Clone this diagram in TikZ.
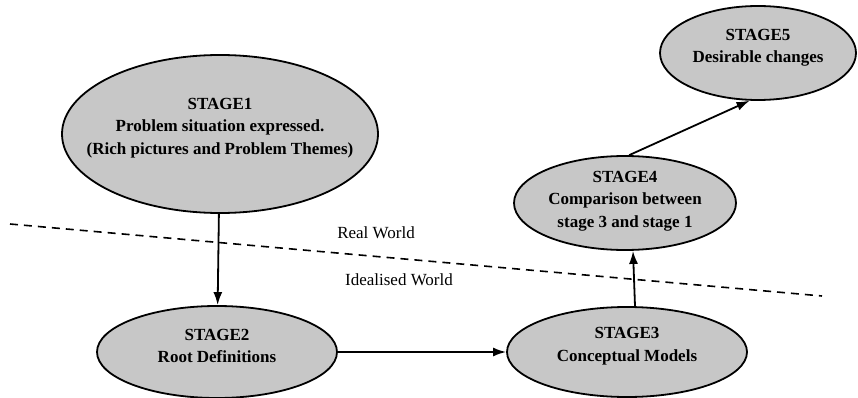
\documentclass[tikz,border=0pt]{standalone}
\usepackage{fontspec}
\setmainfont{Liberation Serif}
\usetikzlibrary{shapes.geometric,arrows.meta}

\tikzset{
  stage/.style={ellipse, draw, line width=1.8pt, fill=black!22, inner sep=0pt},
  stagetext/.style={align=center, inner sep=0pt, font=\fontsize{17}{22.5}\selectfont\bfseries},
  flow/.style={line width=1.8pt, -{Latex[length=13pt,width=9pt]}},
  world/.style={inner sep=0pt, font=\fontsize{17}{21}\selectfont},
}

\begin{document}
\begin{tikzpicture}[x=1pt,y=-1pt]
    \useasboundingbox (0,0) rectangle (858,398);

    % boundary between the two worlds
    \coordinate (wl) at (10,224);
    \coordinate (wr) at (822,296);
    \draw[line width=1.6pt, dash pattern=on 8pt off 6pt] (wl) -- (wr);
    \node[world] (real) at (376,233) {Real World};
    \node[world] (ideal) at (399,280) {Idealised World};

    % stages
    \node[stage, minimum width=316pt, minimum height=158pt] (s1) at (220,134) {};
    \node[stagetext] (t1) at (220,128) {STAGE1\\Problem situation expressed.\\(Rich pictures and Problem Themes)};

    \node[stage, minimum width=240pt, minimum height=92pt] (s2) at (217,352) {};
    \node[stagetext] (t2) at (217,346) {STAGE2\\Root Definitions};

    \node[stage, minimum width=240pt, minimum height=90pt] (s3) at (627,352) {};
    \node[stagetext] (t3) at (627,346) {STAGE3\\Conceptual Models};

    \node[stage, minimum width=222pt, minimum height=94pt] (s4) at (625,203) {};
    \node[stagetext] (t4) at (625,201) {STAGE4\\Comparison between\\stage 3 and stage 1};

    \node[stage, minimum width=196pt, minimum height=94pt] (s5) at (758,53) {};
    \node[stagetext] (t5) at (758,48) {STAGE5\\Desirable changes};

    % arrows
    \draw[flow] (s1) -- (s2);
    \draw[flow] (s2) -- (s3);
    \draw[flow] ([xshift=8pt]s3.north) -- ([xshift=8pt]s4.south);
    \draw[flow] (s4.85) -- (s5.260);
\end{tikzpicture}
\end{document}
